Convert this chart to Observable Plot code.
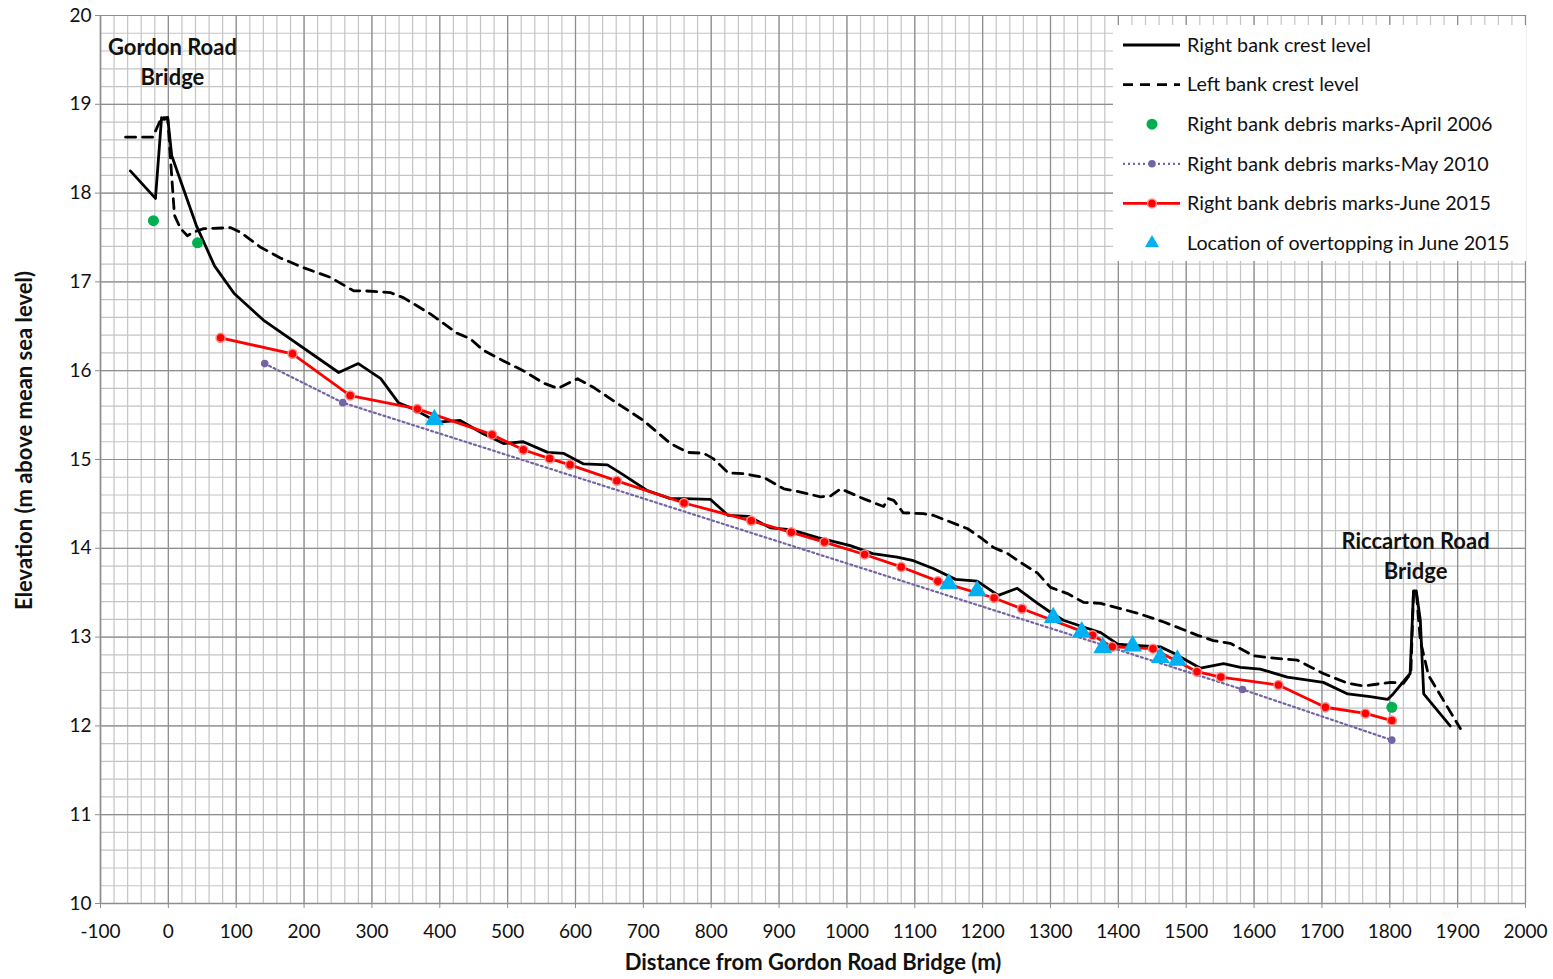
<!DOCTYPE html>
<html>
<head>
<meta charset="utf-8">
<script src="https://cdn.jsdelivr.net/npm/d3@7"></script>
<script src="https://cdn.jsdelivr.net/npm/@observablehq/plot@0.6"></script>
<style>
  html, body { margin: 0; padding: 0; background: white; }
  #chart { width: 1553px; height: 979px; }
</style>
</head>
<body>
<div id="chart"></div>
<script>
// ---- Data ----
const xTicks = [-100,0,100,200,300,400,500,600,700,800,900,1000,1100,1200,1300,1400,1500,1600,1700,1800,1900,2000];
const yTicks = [10,11,12,13,14,15,16,17,18,19,20];

const rightBankCrest = [
  [-56,18.25],[-19,17.94],[-10,18.85],[-6,18.83],[-1,18.85],[5,18.42],[41,17.64],[68,17.18],[97,16.87],
  [140,16.57],[251,15.98],[280,16.08],[313,15.91],[339,15.64],[361,15.57],[397,15.42],[430,15.44],
  [464,15.29],[494,15.18],[523,15.20],[559,15.08],[582,15.07],[612,14.95],[647,14.94],[666,14.85],
  [706,14.65],[740,14.56],[759,14.56],[799,14.55],[825,14.37],[855,14.36],[887,14.23],[917,14.21],
  [957,14.12],[1005,14.03],[1038,13.94],[1074,13.90],[1098,13.86],[1128,13.77],[1160,13.65],
  [1192,13.63],[1223,13.47],[1251,13.55],[1281,13.38],[1300,13.28],[1319,13.19],[1354,13.10],
  [1374,13.05],[1399,12.92],[1418,12.91],[1462,12.89],[1481,12.82],[1521,12.65],[1555,12.70],
  [1580,12.66],[1609,12.64],[1649,12.55],[1702,12.49],[1738,12.36],[1771,12.33],[1797,12.30],
  [1805,12.36],[1830,12.59],[1835,13.52],[1839,13.52],[1845,13.19],[1850,12.36],[1889,12.00]
];

const leftBankCrest = [
  [-63,18.63],[-23,18.63],[-10,18.85],[-1,18.85],[3,18.40],[9,17.75],[18,17.60],[28,17.52],[37,17.56],
  [52,17.60],[92,17.61],[106,17.56],[136,17.39],[165,17.27],[199,17.16],[239,17.05],[273,16.90],
  [288,16.90],[327,16.88],[347,16.82],[386,16.64],[426,16.42],[445,16.36],[464,16.23],[494,16.11],
  [523,16.00],[553,15.86],[574,15.80],[603,15.91],[627,15.81],[662,15.63],[700,15.44],[740,15.18],
  [765,15.08],[789,15.07],[803,15.01],[825,14.85],[848,14.84],[877,14.80],[907,14.67],[927,14.64],
  [961,14.58],[976,14.59],[991,14.67],[1024,14.56],[1054,14.47],[1061,14.56],[1069,14.54],
  [1083,14.40],[1113,14.39],[1128,14.37],[1148,14.31],[1178,14.22],[1197,14.12],[1216,14.01],
  [1237,13.94],[1256,13.84],[1281,13.72],[1300,13.56],[1325,13.49],[1349,13.39],[1374,13.38],
  [1403,13.32],[1428,13.27],[1467,13.17],[1517,13.02],[1540,12.96],[1565,12.93],[1599,12.79],
  [1620,12.77],[1664,12.74],[1702,12.59],[1738,12.48],[1761,12.45],[1801,12.49],[1820,12.48],
  [1831,12.59],[1835,13.52],[1839,13.52],[1845,12.96],[1857,12.57],[1904,11.97]
];

const debrisApril2006 = [[-22,17.69],[43,17.44],[1803,12.21]];

const debrisMay2010 = [[142,16.08],[257,15.64],[1583,12.41],[1803,11.84]];

const debrisJune2015 = [
  [77,16.37],[183,16.19],[268,15.72],[367,15.57],[477,15.28],[523,15.11],[562,15.01],[592,14.94],
  [661,14.76],[760,14.51],[859,14.31],[918,14.18],[967,14.07],[1026,13.93],[1080,13.79],[1134,13.63],
  [1217,13.44],[1258,13.32],[1362,13.02],[1391,12.89],[1451,12.87],[1516,12.61],[1551,12.55],
  [1636,12.46],[1705,12.21],[1764,12.14],[1803,12.06]
];

const overtoppingJune2015 = [
  [392,15.45],[1150,13.60],[1192,13.52],[1304,13.22],[1346,13.06],[1377,12.88],[1421,12.90],
  [1462,12.77],[1487,12.74]
];

const legendLabels = [
  "Right bank crest level",
  "Left bank crest level",
  "Right bank debris marks-April 2006",
  "Right bank debris marks-May 2010",
  "Right bank debris marks-June 2015",
  "Location of overtopping in June 2015"
];

// ---- Styles ----
const C = {
  black: "#000000",
  green: "#00b050",
  purple: "#7464a4",
  red: "#ff0000",
  redHalo: "#ff8c8c",
  blue: "#00b0f0",
  gridMinor: "#c4c4c4",
  gridMajor: "#8e8e8e",
  text: "#111111"
};
const FONT = "Lato, 'Open Sans', sans-serif";

const minorX = d3.range(-100, 2001, 20);
const minorY = d3.range(50, 101).map(d => d / 5);

const chart = Plot.plot({
  width: 1553,
  height: 979,
  marginLeft: 100,
  marginRight: 28,
  marginTop: 15,
  marginBottom: 76,
  style: { fontFamily: FONT, fontSize: "19px", background: "white", color: C.text },
  x: { domain: [-100, 2000] },
  y: { domain: [10, 20] },
  marks: [
    Plot.gridX(minorX, { stroke: C.gridMinor, strokeOpacity: 1, strokeWidth: 1.2 }),
    Plot.gridY(minorY, { stroke: C.gridMinor, strokeOpacity: 1, strokeWidth: 1.2 }),
    Plot.gridX(xTicks, { stroke: C.gridMajor, strokeOpacity: 1, strokeWidth: 1.2 }),
    Plot.gridY(yTicks, { stroke: C.gridMajor, strokeOpacity: 1, strokeWidth: 1.2 }),
    Plot.axisX(xTicks, { tickSize: 5, tickPadding: 16, tickFormat: d => String(d), label: null, stroke: C.gridMajor, fill: C.text }),
    Plot.axisY(yTicks, { tickSize: 5, tickPadding: 4, tickFormat: d => String(d), label: null, stroke: C.gridMajor, fill: C.text }),
    Plot.ruleX([-100], { stroke: C.gridMajor, strokeWidth: 1.5 }),
    Plot.ruleY([10], { stroke: C.gridMajor, strokeWidth: 1.5 }),

    Plot.line(debrisMay2010, { x: d => d[0], y: d => d[1], stroke: C.purple, strokeWidth: 2.2, strokeDasharray: "2,3" }),
    Plot.line(leftBankCrest, { x: d => d[0], y: d => d[1], stroke: C.black, strokeWidth: 2.8, strokeDasharray: "10,7" }),
    Plot.line(rightBankCrest, { x: d => d[0], y: d => d[1], stroke: C.black, strokeWidth: 2.8 }),
    Plot.line(debrisJune2015, { x: d => d[0], y: d => d[1], stroke: C.red, strokeWidth: 2.8 }),
    Plot.dot(debrisMay2010, { x: d => d[0], y: d => d[1], r: 3.8, fill: C.purple }),
    Plot.dot(debrisJune2015, { x: d => d[0], y: d => d[1], r: 4.5, fill: C.red, stroke: C.redHalo, strokeWidth: 1.5 }),
    Plot.dot(debrisApril2006, { x: d => d[0], y: d => d[1], r: 5.5, fill: C.green }),
    Plot.dot(overtoppingJune2015, { x: d => d[0], y: d => d[1], symbol: "triangle", r: 7, fill: C.blue }),

    Plot.text(["Gordon Road\nBridge"], { x: 6, y: 19.49, fontWeight: "bold", fontSize: 22, lineHeight: 1.36, fill: C.text }),
    Plot.text(["Riccarton Road\nBridge"], { x: 1838, y: 13.93, fontWeight: "bold", fontSize: 22, lineHeight: 1.36, fill: C.text }),
    Plot.text(["Distance from Gordon Road Bridge (m)"], { frameAnchor: "bottom", dy: 66, fontWeight: "bold", fontSize: 22, fill: C.text }),
    Plot.text(["Elevation (m above mean sea level)"], { frameAnchor: "left", textAnchor: "middle", dx: -76, dy: -19, rotate: -90, fontWeight: "bold", fontSize: 22, fill: C.text })
  ]
});

document.getElementById("chart").appendChild(chart);

// ---- Legend ----
const svg = d3.select(chart);
const lg = svg.append("g").attr("font-family", FONT).attr("font-size", 19.7).attr("text-anchor", "start");
lg.append("rect").attr("x", 1113).attr("y", 25).attr("width", 413).attr("height", 236).attr("fill", "white");
const rowY = i => 45 + i * 39.6;
const x0 = 1123, x1 = 1180, xm = 1152, xt = 1187;
legendLabels.forEach((label, i) => {
  const y = rowY(i);
  const row = lg.append("g");
  if (i === 0) row.append("line").attr("x1", x0).attr("x2", x1).attr("y1", y).attr("y2", y).attr("stroke", C.black).attr("stroke-width", 2.8);
  if (i === 1) row.append("line").attr("x1", x0).attr("x2", x1).attr("y1", y).attr("y2", y).attr("stroke", C.black).attr("stroke-width", 2.8).attr("stroke-dasharray", "10,7");
  if (i === 2) row.append("circle").attr("cx", xm).attr("cy", y).attr("r", 5.5).attr("fill", C.green);
  if (i === 3) {
    row.append("line").attr("x1", x0).attr("x2", x1).attr("y1", y).attr("y2", y).attr("stroke", C.purple).attr("stroke-width", 2.2).attr("stroke-dasharray", "2,3");
    row.append("circle").attr("cx", xm).attr("cy", y).attr("r", 3.8).attr("fill", C.purple);
  }
  if (i === 4) {
    row.append("line").attr("x1", x0).attr("x2", x1).attr("y1", y).attr("y2", y).attr("stroke", C.red).attr("stroke-width", 2.8);
    row.append("circle").attr("cx", xm).attr("cy", y).attr("r", 4.5).attr("fill", C.red).attr("stroke", C.redHalo).attr("stroke-width", 1.5);
  }
  if (i === 5) row.append("path").attr("d", d3.symbol(d3.symbolTriangle2, Math.PI * 49 * 0.9)()).attr("transform", `translate(${xm},${y})`).attr("fill", C.blue);
  row.append("text").attr("x", xt).attr("y", y).attr("dy", "0.35em").attr("fill", C.text).text(label);
});
</script>
</body>
</html>
